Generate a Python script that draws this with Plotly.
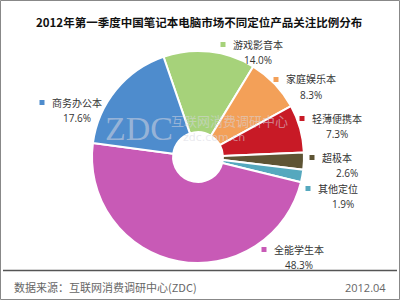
import plotly.graph_objects as go

# Data
categories = ["游戏影音本", "家庭娱乐本", "轻薄便携本", "超极本", "其他定位", "全能学生本", "商务办公本"]
shares = [14.0, 8.3, 7.3, 2.6, 1.9, 48.3, 17.6]
colors = ["#a6d27a", "#f3a058", "#c81a26", "#5e5434", "#55a8be", "#c85ab6", "#4e8ccd"]

title_text = "2012年第一季度中国笔记本电脑市场不同定位产品关注比例分布"
source_text = "数据来源：互联网消费调研中心(ZDC)"
date_text = "2012.04"

# label anchor positions in pixels (x of marker, y of name line)
label_pos = [(223, 44), (276, 79), (302, 118), (312, 157), (308, 188), (264, 249), (42, 102)]

W, H = 400, 300
def px(x):
    return x / W
def py(y):
    return 1 - y / H

FONT = "Noto Sans CJK SC"

fig = go.Figure()
fig.add_trace(go.Pie(
    labels=categories,
    values=shares,
    sort=False,
    direction="clockwise",
    rotation=-19,
    hole=0.235,
    marker=dict(colors=colors, line=dict(color="white", width=2)),
    textinfo="none",
    hoverinfo="label+percent",
    showlegend=False,
    domain=dict(x=[px(92), px(304)], y=[py(263), py(51)]),
))

annotations = []
shapes = []
for name, val, col, (mx, my) in zip(categories, shares, colors, label_pos):
    shapes.append(dict(type="rect", xref="paper", yref="paper",
                       x0=px(mx - 2.5), x1=px(mx + 2.5), y0=py(my + 3), y1=py(my - 2),
                       fillcolor=col, line=dict(width=0)))
    annotations.append(dict(x=px(mx + 8), y=py(my), xref="paper", yref="paper",
                            text=name, showarrow=False, xanchor="left", yanchor="middle",
                            font=dict(family=FONT, size=10, color="#333333")))
    annotations.append(dict(x=px(mx + 9 + 26), y=py(my + 16), xref="paper", yref="paper",
                            text=f"{val:.1f}%", showarrow=False, xanchor="center", yanchor="middle",
                            font=dict(family="Open Sans", size=10, color="#333333")))

# watermark
annotations.append(dict(x=px(139), y=py(128), xref="paper", yref="paper", text="ZDC",
                        showarrow=False, font=dict(family="Liberation Serif", size=34, color="rgba(215,215,225,0.55)")))
annotations.append(dict(x=px(229), y=py(120), xref="paper", yref="paper", text="互联网消费调研中心",
                        showarrow=False, font=dict(family=FONT, size=13, color="rgba(215,215,225,0.55)")))
annotations.append(dict(x=px(214), y=py(137), xref="paper", yref="paper", text="zdc.com.cn",
                        showarrow=False, font=dict(family="DejaVu Sans", size=11, color="rgba(215,215,225,0.55)")))

# title and footer
annotations.append(dict(x=px(199), y=py(22), xref="paper", yref="paper", text="<b>" + title_text + "</b>",
                        showarrow=False, xanchor="center", yanchor="middle",
                        font=dict(family=FONT, size=11.5, color="#111111")))
annotations.append(dict(x=px(12), y=py(287), xref="paper", yref="paper", text=source_text,
                        showarrow=False, xanchor="left", yanchor="middle",
                        font=dict(family=FONT, size=11, color="#666666")))
annotations.append(dict(x=px(388), y=py(287), xref="paper", yref="paper", text=date_text,
                        showarrow=False, xanchor="right", yanchor="middle",
                        font=dict(family="Open Sans", size=11, color="#666666")))

shapes.append(dict(type="line", xref="paper", yref="paper", x0=px(3), x1=px(397), y0=py(270.5), y1=py(270.5),
                   line=dict(color="#555555", width=1.5)))
shapes.append(dict(type="rect", xref="paper", yref="paper", x0=px(0.5), x1=px(399.5), y0=py(299.5), y1=py(0.5),
                   line=dict(color="#888888", width=1)))

fig.update_layout(
    width=W, height=H,
    margin=dict(l=0, r=0, t=0, b=0),
    paper_bgcolor="white", plot_bgcolor="white",
    annotations=annotations, shapes=shapes,
)
fig.write_html("out.html")
